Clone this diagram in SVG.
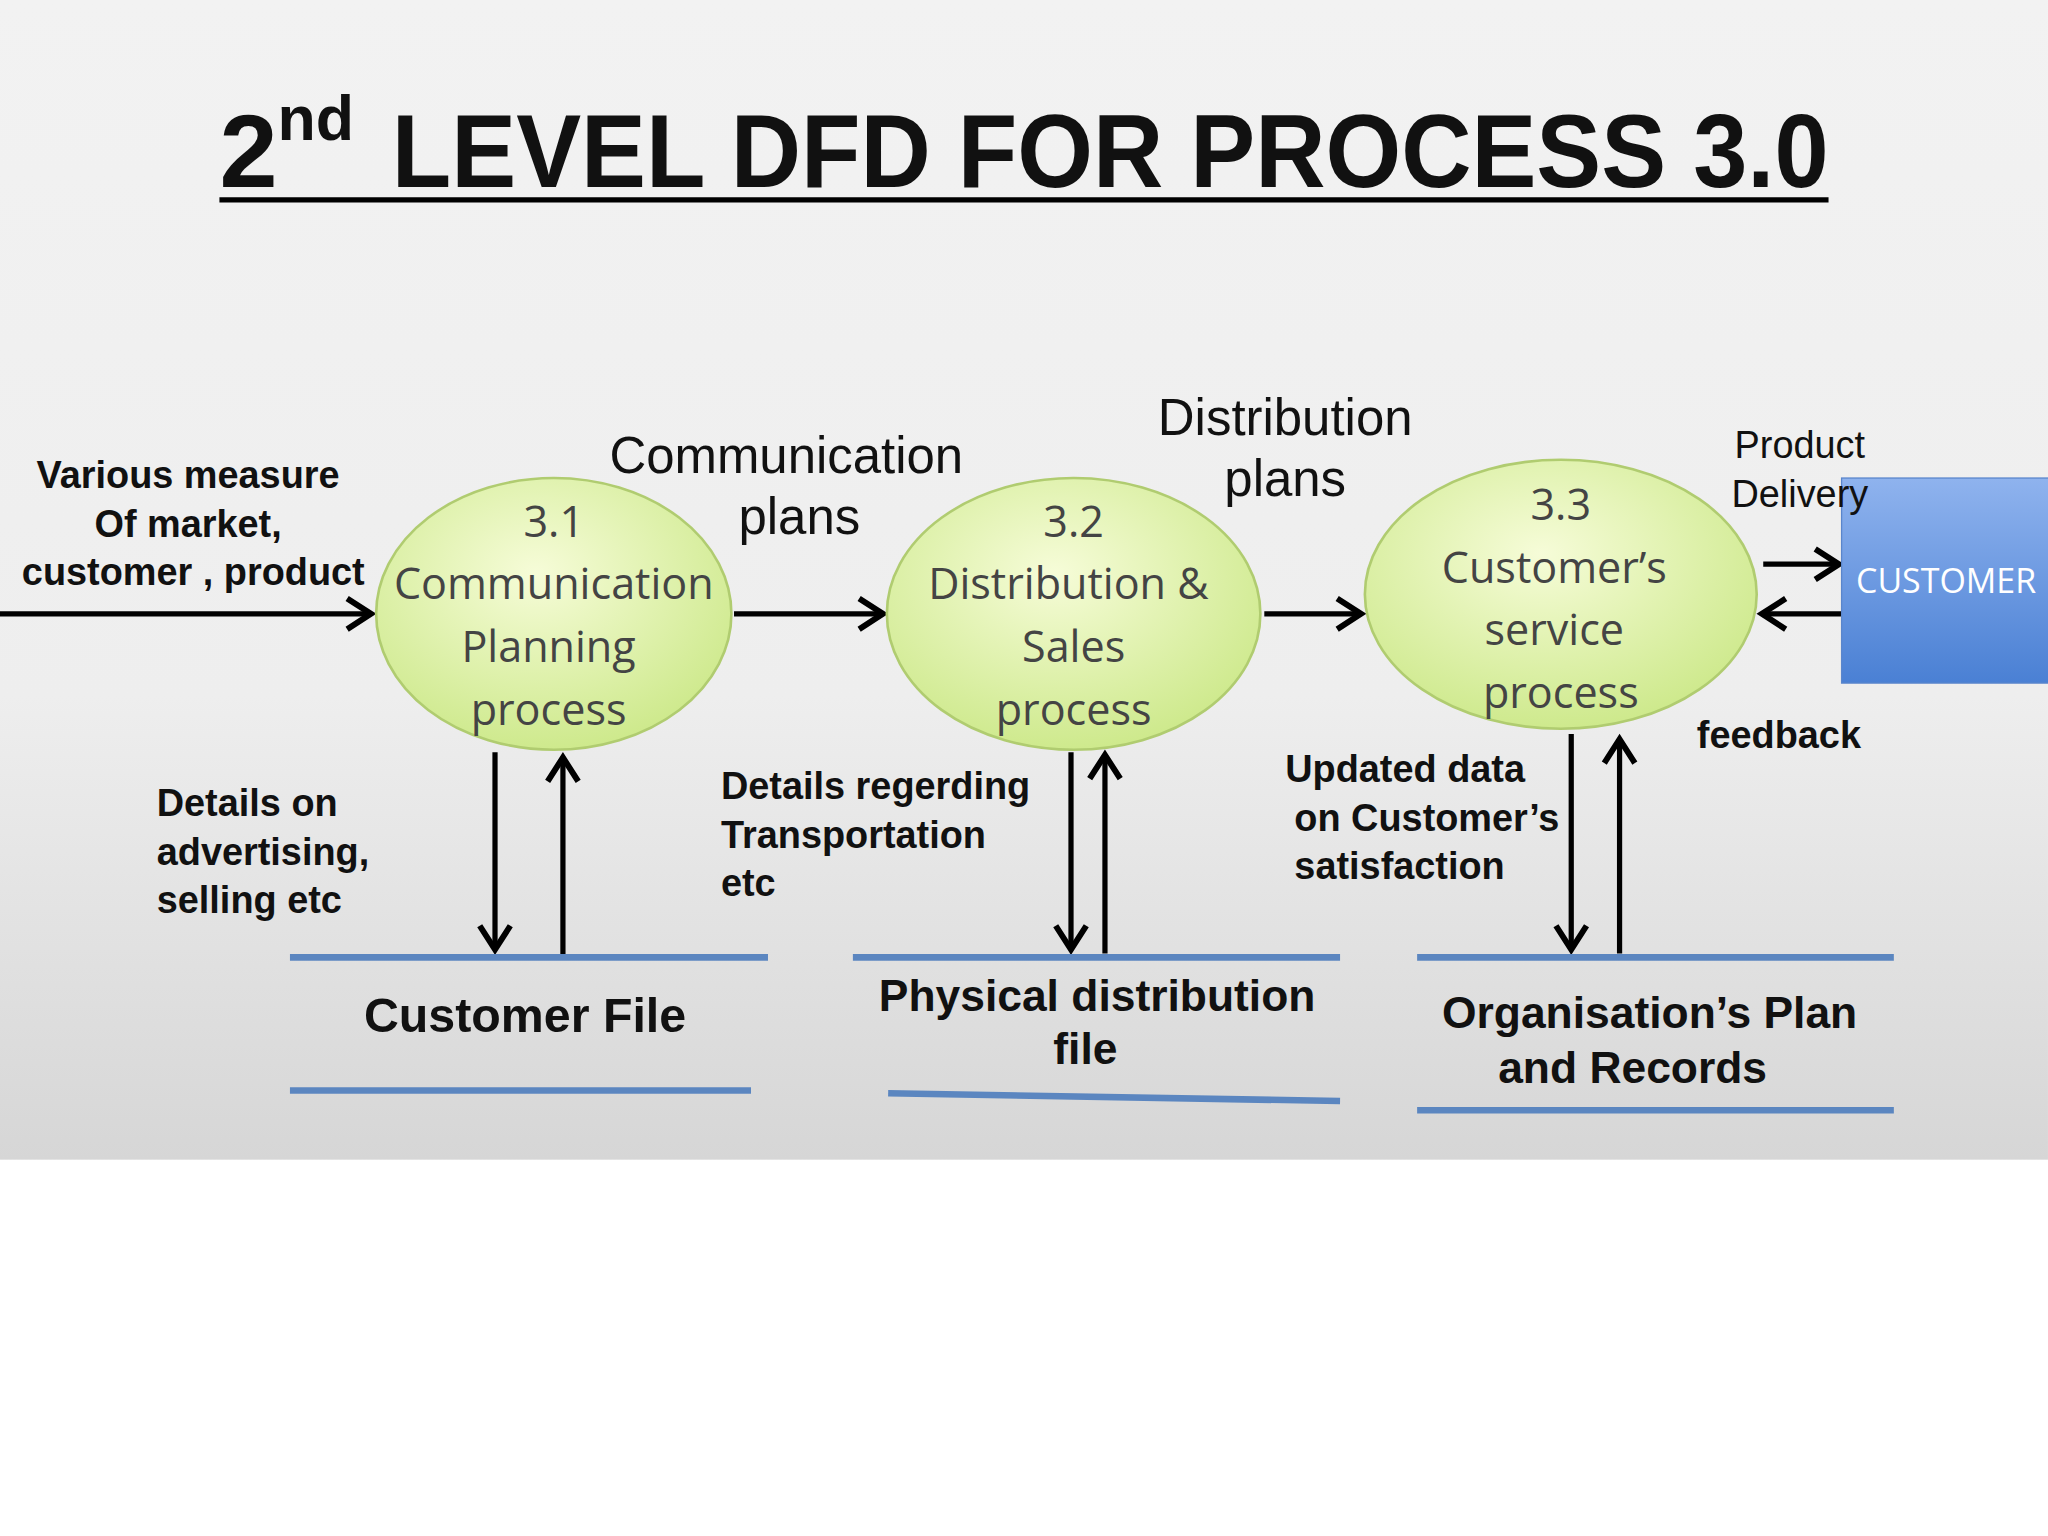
<svg xmlns="http://www.w3.org/2000/svg" width="2048" height="1536" viewBox="0 0 2048 1536">
<defs>
<linearGradient id="bg" x1="0" y1="0" x2="0" y2="1"><stop offset="0" stop-color="#f2f2f2"/><stop offset="0.6" stop-color="#eeeeee"/><stop offset="1" stop-color="#d6d6d6"/></linearGradient>
<radialGradient id="eg" cx="0.45" cy="0.35" r="0.7"><stop offset="0" stop-color="#f6fcd8"/><stop offset="1" stop-color="#cbe887"/></radialGradient>
<linearGradient id="bx" x1="0" y1="0" x2="0" y2="1"><stop offset="0" stop-color="#8fb3ee"/><stop offset="1" stop-color="#4a80d4"/></linearGradient>
<marker id="ah" viewBox="0 0 20 20" refX="17" refY="10" markerWidth="26" markerHeight="26" markerUnits="userSpaceOnUse" orient="auto" style="overflow:visible">
<polyline points="3,1 17,10 3,19" fill="none" stroke="#000" stroke-width="3.5"/></marker>
<style>
.t{font-family:"Liberation Sans",Arial,sans-serif;fill:#111}
.b{font-weight:bold}
.c{font-family:"Open Sans","Noto Sans",sans-serif;fill:#444;font-size:33px;text-anchor:middle}
.fl{stroke:#000;stroke-width:4;fill:none;marker-end:url(#ah)}
.st{stroke:#5b86c0;stroke-width:5}
.el{fill:url(#eg);stroke:#b0cc70;stroke-width:2}
</style>
</defs>
<g transform="scale(1.3061)">
<rect x="0" y="0" width="1568" height="888" fill="url(#bg)"/>
<rect x="0" y="888" width="1568" height="288" fill="#fff"/>
<g id="title"><text x="168" y="143" class="t b" font-size="80" font-family="Open Sans, sans-serif">2<tspan font-size="48" dy="-36">nd</tspan><tspan dy="36" x="300" textLength="1100" lengthAdjust="spacingAndGlyphs">LEVEL DFD FOR PROCESS 3.0</tspan></text>
<line x1="168" y1="153" x2="1400" y2="153" stroke="#000" stroke-width="4"/></g>
<g id="connectors">
<line class="fl" x1="0" y1="470" x2="284" y2="470"/>
<line class="fl" x1="562" y1="470" x2="676" y2="470"/>
<line class="fl" x1="968" y1="470" x2="1042" y2="470"/>
<line class="fl" x1="1350" y1="432" x2="1408" y2="432"/>
<line class="fl" x1="1410" y1="470" x2="1349" y2="470"/>
<line class="fl" x1="379" y1="576" x2="379" y2="727"/>
<line class="fl" x1="431" y1="733" x2="431" y2="580"/>
<line class="fl" x1="820" y1="576" x2="820" y2="727"/>
<line class="fl" x1="846" y1="730" x2="846" y2="578"/>
<line class="fl" x1="1203" y1="562" x2="1203" y2="727"/>
<line class="fl" x1="1240" y1="730" x2="1240" y2="566"/>
</g>
<g id="p31"><ellipse class="el" cx="424" cy="470" rx="136" ry="104"/>
<text class="c" x="424" y="411">3.1</text><text class="c" x="424" y="459">Communication</text><text class="c" x="420" y="507">Planning</text><text class="c" x="420" y="555">process</text></g>
<g id="p32"><ellipse class="el" cx="822" cy="470" rx="143" ry="104"/>
<text class="c" x="822" y="411">3.2</text><text class="c" x="818" y="459">Distribution &amp;</text><text class="c" x="822" y="507">Sales</text><text class="c" x="822" y="555">process</text></g>
<g id="p33"><ellipse class="el" cx="1195" cy="455" rx="150" ry="103"/>
<text class="c" x="1195" y="398">3.3</text><text class="c" x="1190" y="446">Customer’s</text><text class="c" x="1190" y="494">service</text><text class="c" x="1195" y="542">process</text></g>
<g id="customer"><rect x="1410" y="366" width="160" height="157" fill="url(#bx)" stroke="#5a86cc"/>
<text x="1490" y="454" text-anchor="middle" font-family="Open Sans, sans-serif" font-size="26" fill="#fff">CUSTOMER</text></g>
<g id="store1"><line class="st" x1="222" y1="733" x2="588" y2="733"/><line class="st" x1="222" y1="835" x2="575" y2="835"/>
<text class="t b" x="402" y="790" font-size="37" text-anchor="middle">Customer File</text></g>
<g id="store2"><line class="st" x1="653" y1="733" x2="1026" y2="733"/><line class="st" x1="680" y1="837" x2="1026" y2="843"/>
<text class="t b" x="840" y="774" font-size="34" text-anchor="middle">Physical distribution</text><text class="t b" x="831" y="815" font-size="34" text-anchor="middle">file</text></g>
<g id="store3"><line class="st" x1="1085" y1="733" x2="1450" y2="733"/><line class="st" x1="1085" y1="850" x2="1450" y2="850"/>
<text class="t b" x="1263" y="787" font-size="34" text-anchor="middle">Organisation’s Plan</text><text class="t b" x="1250" y="829" font-size="34" text-anchor="middle">and  Records</text></g>
<g id="labels" class="t">
<text class="t b" font-size="29" text-anchor="middle"><tspan x="144" y="374">Various measure</tspan><tspan x="144" y="411">Of  market,</tspan><tspan x="148" y="448">customer , product</tspan></text>
<text class="t" font-size="39" text-anchor="middle"><tspan x="602" y="362">Communication</tspan><tspan x="612" y="409">plans</tspan></text>
<text class="t" font-size="39" text-anchor="middle"><tspan x="984" y="333">Distribution</tspan><tspan x="984" y="380">plans</tspan></text>
<text class="t" font-size="29" text-anchor="middle"><tspan x="1378" y="351">Product</tspan><tspan x="1378" y="388">Delivery</tspan></text>
<text class="t b" x="1362" y="573" font-size="29" text-anchor="middle">feedback</text>
<text class="t b" font-size="29"><tspan x="120" y="625">Details on</tspan><tspan x="120" y="662">advertising,</tspan><tspan x="120" y="699">selling etc</tspan></text>
<text class="t b" font-size="29"><tspan x="552" y="612">Details regerding</tspan><tspan x="552" y="649">Transportation</tspan><tspan x="552" y="686">etc</tspan></text>
<text class="t b" font-size="29"><tspan x="984" y="599">Updated data</tspan><tspan x="991" y="636">on  Customer’s</tspan><tspan x="991" y="673">satisfaction</tspan></text>
</g>
</g>
</svg>
